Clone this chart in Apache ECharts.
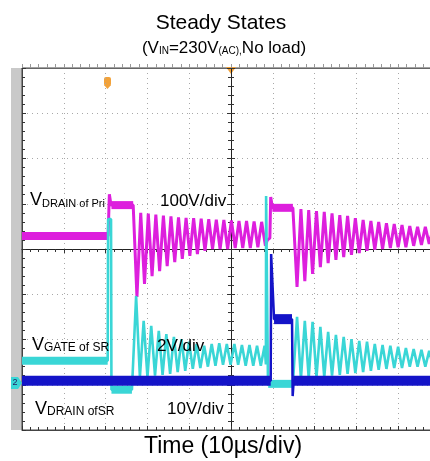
<!DOCTYPE html>
<html>
<head>
<meta charset="utf-8">
<script src="https://cdn.jsdelivr.net/npm/echarts@6/dist/echarts.min.js"></script>
<style>
html, body { margin: 0; padding: 0; background: #fff; }
#scope { width: 430px; height: 461px; }
</style>
</head>
<body>
<div id="scope"></div>
<script>
var myChartScope = echarts.init(document.getElementById('scope'));

// screen is 10 x 8 div, centre of the screen is (0, 0); all values in div
// VDRAIN of Pri (magenta, 100V/div)
var priStart = [[-5, 0.29], [-2.94, 0.29], [-2.91, 1.21], [-2.87, 0.97], [-2.34, 0.97]];
var priRing1Troughs = [-1.06, -0.77, -0.60, -0.49, -0.38, -0.29, -0.22, -0.15, -0.11, -0.04, 0, 0, 0, 0.02, 0.02, 0.02, 0.04, 0.07];
var priRing1Peaks = [0.80, 0.78, 0.76, 0.74, 0.72, 0.70, 0.69, 0.68, 0.67, 0.66, 0.65, 0.64, 0.63, 0.62, 0.62, 0.61, 0.60];
var priMid = [[0.87, 0.20], [0.93, 0.24], [0.95, 1.15], [0.99, 0.91], [1.48, 0.91]];
var priRing2Troughs = [-0.84, -0.71, -0.55, -0.40, -0.31, -0.24, -0.18, -0.13, -0.09, -0.04, -0.02, 0, 0.02, 0.04, 0.04, 0.07, 0.09, 0.11];
var priRing2Peaks = [0.88, 0.86, 0.84, 0.82, 0.79, 0.75, 0.73, 0.68, 0.64, 0.62, 0.60, 0.57, 0.55, 0.53, 0.51, 0.49, 0.49, 0.46];
var priFlat = [[-5, -2.95, 0.29], [-2.86, -2.34, 0.97], [0.99, 1.48, 0.91]];

// VGATE of SR (cyan, 2V/div)
var gateStart = [[-5, -2.47], [-2.95, -2.47], [-2.94, 0.66], [-2.87, 0.66], [-2.86, -3.11], [-2.37, -3.11]];
var gateRing1Peaks = [-1.04, -1.59, -1.70, -1.81, -1.88, -1.94, -1.99, -2.05, -2.10, -2.14, -2.10, -2.08, -2.10, -2.10, -2.12, -2.12, -2.14, -2.14];
var gateRing1Troughs = [-2.83, -2.83, -2.80, -2.78, -2.76, -2.72, -2.69, -2.65, -2.63, -2.60, -2.58, -2.56, -2.56, -2.56, -2.58, -2.58, -2.58];
var gateMid = [[0.835, -2.55], [0.84, 1.17], [0.88, 1.17], [0.885, -2.98], [1.48, -2.98]];
var gateRing2Peaks = [-1.50, -1.59, -1.61, -1.72, -1.83, -1.90, -1.94, -1.99, -2.03, -2.05, -2.10, -2.12, -2.14, -2.16, -2.19, -2.21, -2.23, -2.25];
var gateRing2Troughs = [-2.87, -2.85, -2.83, -2.83, -2.80, -2.78, -2.76, -2.74, -2.72, -2.69, -2.67, -2.65, -2.63, -2.63, -2.60, -2.60, -2.60, -2.60];
var gateFlat = [[-5, -2.95, -2.47], [-2.86, -2.37, -3.11], [0.89, 1.48, -2.98]];

// VDRAIN of SR (blue, 10V/div)
var srDrain = [[-5, -2.91], [0.95, -2.91], [0.96, -0.11], [1.0, -0.11], [1.03, -1.55], [1.46, -1.55], [1.475, -3.25], [1.50, -2.91], [5, -2.91]];
var srFlat = [[-5, 0.95, -2.91], [1.03, 1.46, -1.55], [1.49, 5, -2.91]];

// ringing timing (div): first extreme and half period
var ring1Start = -2.25, ring1Half = 0.0904;
var ring2Start = 1.58, ring2Half = 0.093;

function ring(start, half, first, second) {
    var pts = [];
    for (var k = 0; k < first.length + second.length; k++) {
        var v = (k % 2 === 0) ? first[k / 2] : second[(k - 1) / 2];
        if (v === undefined) break;
        pts.push([start + k * half, v]);
    }
    return pts;
}

var priPath = priStart.concat(
    ring(ring1Start, ring1Half, priRing1Troughs, priRing1Peaks),
    priMid,
    ring(ring2Start, ring2Half, priRing2Troughs, priRing2Peaks));
var gatePath = gateStart.concat(
    ring(ring1Start - 0.02, ring1Half, gateRing1Peaks, gateRing1Troughs),
    gateMid,
    ring(ring2Start, ring2Half, gateRing2Peaks, gateRing2Troughs));

var MAGENTA = '#dd1fdd', CYAN = '#3ad6d6', BLUE = '#1414c8';

function trace(data, color, width) {
    return {
        type: 'line', data: data, showSymbol: false, silent: true,
        lineStyle: { color: color, width: width }
    };
}
function bands(list, color, width) {
    return list.map(function (b) {
        return trace([[b[0], b[2]], [b[1], b[2]]], color, width);
    });
}

var series = [].concat(
    [trace(priPath, MAGENTA, 3)], bands(priFlat, MAGENTA, 8),
    [trace(gatePath, CYAN, 2.6)], bands(gateFlat, CYAN, 8),
    [trace(srDrain, BLUE, 2.5)], bands(srFlat, BLUE, 10)
);

var ff = 'Liberation Sans, Arial, sans-serif';
var tickCol = '#333';

function xAx(extra) {
    return Object.assign({
        type: 'value', min: -5, max: 5, interval: 1,
        axisLabel: { show: false }, splitLine: { show: false },
        axisTick: { show: true, length: 4, lineStyle: { color: tickCol } },
        minorTick: { show: true, splitNumber: 5, length: 3, lineStyle: { color: tickCol } }
    }, extra);
}
function yAx(extra) {
    return Object.assign({
        type: 'value', min: -4, max: 4, interval: 1,
        axisLabel: { show: false }, splitLine: { show: false },
        axisTick: { show: true, length: 4, lineStyle: { color: tickCol } },
        minorTick: { show: true, splitNumber: 5, length: 3, lineStyle: { color: tickCol } }
    }, extra);
}
var dotted = { show: true, lineStyle: { color: '#a8a8a8', type: [1, 4], width: 1 } };

function label(x, y, text, rich) {
    return { type: 'text', x: x, y: y, z: 100,
        style: { text: text, rich: rich, verticalAlign: 'middle', fill: '#000', fontFamily: ff } };
}
function subRich(big, small) {
    return {
        v: { fontSize: big, fontFamily: ff, lineHeight: big },
        s: { fontSize: small, fontFamily: ff, lineHeight: small, verticalAlign: 'bottom' }
    };
}
var plain17 = { p: { fontSize: 17, fontFamily: ff } };

option = {
    animation: false,
    backgroundColor: '#fff',
    grid: { left: 22, top: 68, right: -10, bottom: 31, outerBoundsMode: 'none',
        show: true, borderColor: '#444', borderWidth: 1 },
    xAxis: [
        xAx({ axisLine: { onZero: true, onZeroAxisIndex: 0, lineStyle: { color: '#222' } }, splitLine: dotted }),
        xAx({ axisLine: { show: false, onZero: true, onZeroAxisIndex: 1 }, axisTick: { show: true, inside: true, length: 4, lineStyle: { color: tickCol } } }),
        xAx({ position: 'bottom', axisLine: { onZero: false, lineStyle: { color: '#444' } }, axisTick: { show: true, inside: true, length: 4, lineStyle: { color: tickCol } } }),
        xAx({ position: 'top', axisLine: { onZero: false, lineStyle: { color: '#666' } }, axisTick: { show: true, length: 4, lineStyle: { color: '#999' } }, minorTick: { show: true, splitNumber: 5, length: 4, lineStyle: { color: '#999' } } })
    ],
    yAxis: [
        yAx({ axisLine: { onZero: true, onZeroAxisIndex: 0, lineStyle: { color: '#222' } }, splitLine: dotted }),
        yAx({ position: 'left', axisLine: { onZero: false, lineStyle: { color: '#444' } }, axisTick: { show: true, inside: true, length: 4, lineStyle: { color: tickCol } } }),
        yAx({ position: 'left', axisLine: { show: false, onZero: true, onZeroAxisIndex: 1 }, axisTick: { show: true, inside: true, length: 4, lineStyle: { color: tickCol } } })
    ],
    graphic: [
        { type: 'rect', shape: { x: 11, y: 68, width: 11, height: 362 }, style: { fill: '#c9c9c9' }, z: -10 },
        // trigger markers
        { type: 'rect', shape: { x: 104, y: 77, width: 7, height: 9, r: 2 }, style: { fill: '#f2a23a' } },
        { type: 'polygon', shape: { points: [[104, 85], [111, 85], [107.5, 89]] }, style: { fill: '#f2a23a' } },
        { type: 'polygon', shape: { points: [[226, 67], [236, 67], [231, 74]] }, style: { fill: '#f2a23a' } },
        { type: 'polygon', shape: { points: [[11, 377], [18, 377], [22, 383], [18, 389], [11, 389]] }, style: { fill: CYAN } },
        { type: 'text', x: 15, y: 383, style: { text: '2', fontSize: 9, fontFamily: ff, fill: '#226', align: 'center', verticalAlign: 'middle' } },
        // titles
        { type: 'text', x: 221, y: 23, style: { text: 'Steady States', fontSize: 21, fontFamily: ff, fill: '#000', align: 'center', verticalAlign: 'middle' } },
        { type: 'text', x: 224, y: 48, style: { text: '{m|(V}{s|IN}{m|=230V}{s|(AC),}{m|No load)}', align: 'center', verticalAlign: 'middle', fill: '#000',
            rich: { m: { fontSize: 17, fontFamily: ff, lineHeight: 17 }, s: { fontSize: 10, fontFamily: ff, lineHeight: 10, verticalAlign: 'bottom' } } } },
        { type: 'text', x: 223, y: 447, style: { text: 'Time (10\u00b5s/div)', fontSize: 23, fontFamily: ff, fill: '#000', align: 'center', verticalAlign: 'middle' } },
        // channel labels
        label(30, 200, '{v|V}{s|DRAIN of Pri}', subRich(18, 11)),
        label(160, 201, '{p|100V/div}', plain17),
        label(32, 345, '{v|V}{s|GATE of SR}', subRich(18, 12)),
        label(157, 346, '{p|2V/div}', plain17),
        label(35, 409, '{v|V}{s|DRAIN ofSR}', subRich(18, 12)),
        label(167, 409, '{p|10V/div}', plain17)
    ],
    series: series
};

myChartScope.setOption(option);
</script>
</body>
</html>
